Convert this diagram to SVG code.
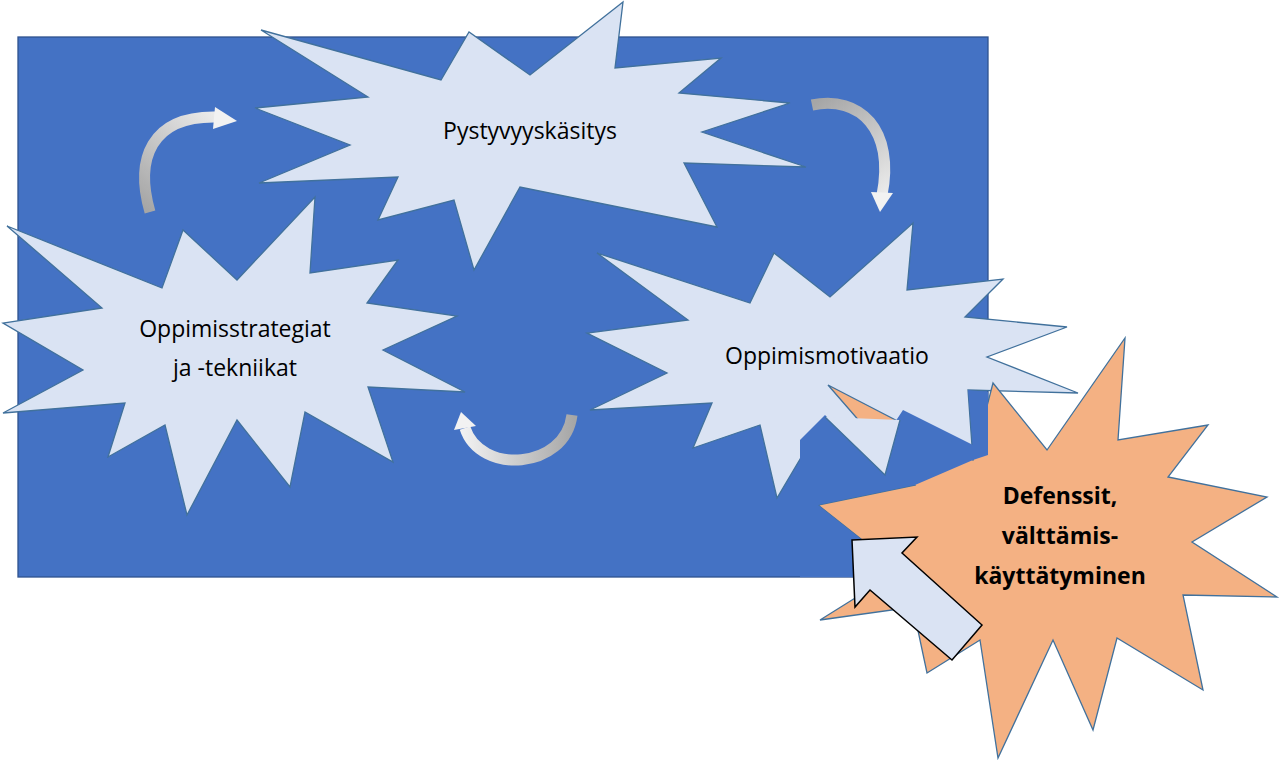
<svg xmlns="http://www.w3.org/2000/svg" width="1280" height="762" viewBox="0 0 1280 762">
<style>
.star{fill:#DAE3F3;stroke:#41719C;stroke-width:1.3}
.org{fill:#F4B183;stroke:#41719C;stroke-width:1.3}
.t{font-family:"Open Sans","Liberation Sans",sans-serif;font-size:23px;fill:#000;text-anchor:middle}
.b{font-weight:bold}
.curve{fill:none;stroke-width:11}
</style>
<defs>
<linearGradient id="g1" gradientUnits="userSpaceOnUse" x1="150" y1="212" x2="237" y2="118"><stop offset="0" stop-color="#A6A6A6"/><stop offset="1" stop-color="#F2F2F2"/></linearGradient>
<linearGradient id="g2" gradientUnits="userSpaceOnUse" x1="812" y1="105" x2="882" y2="210"><stop offset="0" stop-color="#A6A6A6"/><stop offset="1" stop-color="#F2F2F2"/></linearGradient>
<linearGradient id="g3" gradientUnits="userSpaceOnUse" x1="575" y1="418" x2="462" y2="418"><stop offset="0" stop-color="#A6A6A6"/><stop offset="1" stop-color="#F2F2F2"/></linearGradient>
</defs>
<rect id="background" x="18" y="37" width="970" height="540" fill="#4472C4" stroke="#2F528F" stroke-width="1.3"/>
<g id="connectors">
<path class="curve" stroke="url(#g1)" d="M150,212 C135,160 150,115 218,117"/>
<polygon points="215,107 237,121 213,129" fill="#F2F2F2"/>
<path class="curve" stroke="url(#g2)" d="M812,105 C860,95 895,130 882,195"/>
<polygon points="871,192 880,212 893,193" fill="#F2F2F2"/>
<path class="curve" stroke="url(#g3)" d="M572,415 C565,470 480,475 465,428"/>
<polygon points="454,430 461,412 476,426" fill="#F2F2F2"/>
</g>
<g id="node-pystyvyys">
<polygon class="star" points="261,30 441,80 469,32 530,75 623,2 615,68 721,58 679,93 790,103 702,132 806,167 684,163 717,227 520,187 474,270 454,200 378,220 398,177 259,183 350,145 255,108 368,97"/>
<text class="t" x="530" y="139">Pystyvyyskäsitys</text>
</g>
<g id="node-strategiat">
<polygon class="star" points="7,226 162,288 183,230 237,280 315,197 310,273 398,260 367,303 457,316 383,350 465,392 368,387 393,462 305,412 290,487 237,420 187,515 165,425 108,457 125,403 3,413 83,370 3,323 102,308"/>
<text class="t" x="235" y="337">Oppimisstrategiat</text>
<text class="t" x="235" y="376">ja -tekniikat</text>
</g>
<g id="node-motivaatio">
<polygon class="star" points="597,253 750,303 774,253 830,297 913,223 907,290 1003,279 965,317 1067,327 987,357 1078,393 968,390 973,460 900,420 885,475 825,417 777,498 760,425 693,448 712,403 590,410 667,373 587,333 688,320"/>
<text class="t" x="827" y="364">Oppimismotivaatio</text>
</g>
<g id="node-defenssit">
<polygon class="org" points="828,385 973,460 993,383 1047,450 1125,338 1118,440 1208,425 1168,477 1267,497 1192,542 1277,597 1183,595 1203,690 1117,638 1093,730 1053,640 998,758 980,640 927,673 913,607 820,620 900,570 818,505 915,485"/>
<polygon points="800,440 825,415 870,460 903,410 973,445 968,390 988,392 988,455 973,460 915,485 818,505 900,570 893,577 800,577" fill="#4472C4"/>
<polygon points="825,417 885,475 900,420" fill="#DAE3F3"/>
<polyline points="825,417 885,475 900,420" fill="none" stroke="#41719C" stroke-width="1.3"/>
<text class="t b" x="1060" y="504">Defenssit,</text>
<text class="t b" x="1060" y="544">välttämis-</text>
<text class="t b" x="1060" y="584">käyttätyminen</text>
</g>
<g id="arrow-block">
<polygon points="852,540 917,537 902,553 982,625 952,660 870,590 855,607" fill="#DAE3F3" stroke="#000" stroke-width="1.5"/>
</g>
</svg>
